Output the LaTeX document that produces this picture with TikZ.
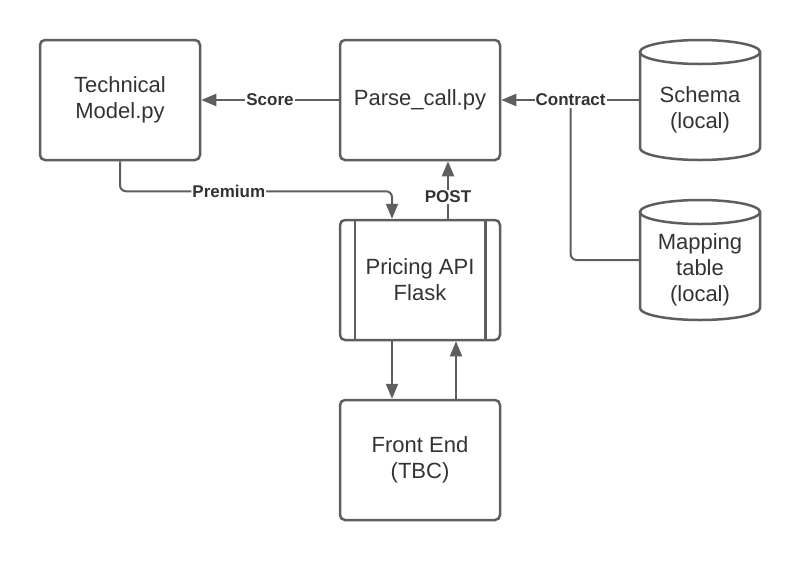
\documentclass[tikz,border=0pt]{standalone}
\usepackage{fontspec}
\setmainfont{Liberation Sans}
\usepackage{tikz}
\usetikzlibrary{arrows.meta, positioning}
\definecolor{linegray}{HTML}{5E5E5E}
\definecolor{txtgray}{HTML}{333333}

\begin{document}
\begin{tikzpicture}[x=1pt,y=-1pt,node distance=160pt,on grid,>={Triangle[length=15pt,width=12pt]},
        every node/.style={text=txtgray,font=\fontsize{22}{26}\selectfont},
        block/.style={draw=linegray,line width=2.5pt,fill=white,rounded corners=5pt,
          minimum width=160pt,minimum height=120pt,align=center},
        store/.style={minimum width=120pt,minimum height=120pt,inner sep=0pt,outer sep=0pt,
          label={[align=center,yshift=-10pt]center:#1}},
        outline/.style={draw=linegray,line width=2.5pt},
        conn/.style={draw=linegray,line width=2pt},
        lbl/.style={fill=white,inner sep=1pt,font=\bfseries\fontsize{17}{20}\selectfont}]

      \useasboundingbox (0,0) rectangle (800,560);

      \node[block] (tech) at (120,100) {Technical\\Model.py};
      \node[block] (parse) [right=300pt of tech] {Parse\_call.py};
      \node[store={Schema\\(local)}] (schema) [right=280pt of parse] {};
      \node[store={Mapping\\table\\(local)}] (map) [below=of schema] {};
      \node[block] (pricing) [below=180pt of parse] {Pricing API\\Flask};
      \node[block] (front) [below=180pt of pricing] {Front End\\(TBC)};

      % cylinders round the two stores
      \foreach \n in {schema,map} {
        \draw[outline] ([yshift=-12pt]\n.north west) -- ([yshift=12pt]\n.south west)
          arc[start angle=180,end angle=360,x radius=60pt,y radius=12pt]
          -- ([yshift=-12pt]\n.north east);
        \draw[outline] ([yshift=-12pt]\n.north) ellipse [x radius=60pt,y radius=12pt];
      }

      \foreach \s/\a in {16/west,-16/east}
        \draw[outline] ([xshift=\s]pricing.north \a) -- ([xshift=\s]pricing.south \a);

      \draw[conn,->] (parse) -- node[lbl] {Score} (tech);
      \draw[conn,->] (schema) -- node[lbl] (ctr) {Contract} (parse);
      \draw[conn,rounded corners=6pt] (map.west) -| (ctr.south);
      \draw[conn,->,rounded corners=6pt] (tech.south) -- ++(0,30)
        -| node[lbl,pos=0.2] {Premium} ([xshift=-28]pricing.north);
      \draw[conn,->] ([xshift=28]pricing.north) -- node[lbl,pos=0.38] {POST} ([xshift=28]parse.south);
      \draw[conn,->] ([xshift=-28]pricing.south) -- ([xshift=-28]front.north);
      \draw[conn,->] ([xshift=36]front.north) -- ([xshift=36]pricing.south);
    \end{tikzpicture}
\end{document}
